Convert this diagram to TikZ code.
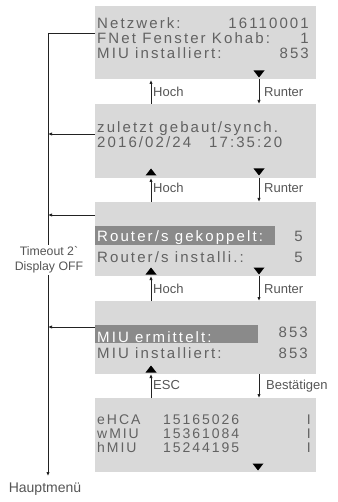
\documentclass[tikz,border=0pt]{standalone}
\usepackage{fontspec}
\setmainfont{Liberation Sans}
\newfontfamily\lcdfont[LetterSpace=14]{Liberation Sans}
\newfontfamily\rawfont[Ligatures=TeXOff]{Liberation Sans}
\usetikzlibrary{arrows.meta}
\definecolor{panel}{HTML}{D9D9D9}
\definecolor{hilite}{HTML}{8A8A8A}
\definecolor{lcdtext}{HTML}{626262}
\definecolor{labeltext}{HTML}{555555}
\definecolor{wire}{HTML}{222222}
\tikzset{
  panelbox/.style={fill=panel, draw=none},
  hlbar/.style={fill=hilite, draw=none},
  lcd/.style={font=\lcdfont\fontsize{15}{15}\selectfont, text=lcdtext, inner sep=0pt, anchor=base west},
  lcdr/.style={lcd, anchor=base east},
  lcdw/.style={lcd, text=white},
  lcdsmall/.style={lcd, font=\lcdfont\fontsize{14}{14}\selectfont, text height=10pt, text depth=0pt},
  lcdsmallr/.style={lcdsmall, anchor=base east},
  keylabel/.style={font=\fontsize{13}{13}\selectfont, text=labeltext, inner sep=0pt, anchor=base west},
  link/.style={draw=wire, line width=0.8pt, -{Latex[length=4pt,width=3.4pt]}},
  mainline/.style={draw=wire, line width=0.8pt},
}
\newcommand{\tridown}[2]{\fill[black] (#1-5.5,#2-3.5) -- (#1+5.5,#2-3.5) -- (#1,#2+3.5) -- cycle;}
\newcommand{\triup}[2]{\fill[black] (#1-5.5,#2+3.5) -- (#1+5.5,#2+3.5) -- (#1,#2-3.5) -- cycle;}
\begin{document}
\begin{tikzpicture}[x=1pt, y=-1pt]
\useasboundingbox (0,0) rectangle (337,502);

% display panels
\path[panelbox] (95,6) rectangle (316,79);
\path[panelbox] (95,104) rectangle (316,178);
\path[panelbox] (95,202) rectangle (316,276);
\path[panelbox] (95,301) rectangle (316,374);
\path[panelbox] (95,398) rectangle (316,472);

% anchors on the panel edges
\coordinate (p1w) at (95,33);
\coordinate (p2w) at (95,134);
\coordinate (p3w) at (95,215);
\coordinate (p4w) at (95,327);
\coordinate (p1s) at (151,80);  \coordinate (p2n) at (151,104);
\coordinate (p1r) at (259,79);  \coordinate (p2m) at (259,104);
\coordinate (p2s) at (151,178); \coordinate (p3n) at (151,202);
\coordinate (p2r) at (259,178); \coordinate (p3m) at (259,202);
\coordinate (p3s) at (151,276); \coordinate (p4n) at (151,301);
\coordinate (p3r) at (259,276); \coordinate (p4m) at (259,301);
\coordinate (p4s) at (151,374); \coordinate (p5n) at (151,398);
\coordinate (p4r) at (259,374); \coordinate (p5m) at (259,398);
\coordinate (bus1) at (48,33);
\coordinate (bus2) at (48,134);
\coordinate (bus3) at (48,215);
\coordinate (bus4) at (48,327);
\coordinate (busend) at (48,476);

% panel 1
\node[lcd]  (n1a) at (97,29) {Netzwerk:};
\node[lcdr] (v1a) at (309,29) {16110001};
\node[lcd]  (n1b) at (97,44) {FNet Fenster Kohab:};
\node[lcdr] (v1b) at (309,44) {1};
\node[lcd]  (n1c) at (97,59) {MIU installiert:};
\node[lcdr] (v1c) at (309,59) {853};
\tridown{259}{74}

% panel 2
\node[lcd] (n2a) at (97,133) {zuletzt gebaut/synch.};
\node[lcd] (n2b) at (97,148) {2016/02/24\hspace{18pt}17:35:20};
\triup{151}{172}
\tridown{259}{172}

% panel 3
\path[hlbar] (95,226) rectangle (275,245);
\node[lcdw] (n3a) at (97,241) {Router/s gekoppelt:};
\node[lcdr] (v3a) at (303,241) {5};
\node[lcd]  (n3b) at (97,262) {Router/s installi.:};
\node[lcdr] (v3b) at (303,262) {5};
\triup{151}{271}
\tridown{259}{271}

% panel 4
\path[hlbar] (95,325) rectangle (258,343);
\node[lcdw] (n4a) at (97,342) {MIU ermittelt:};
\node[lcdr] (v4a) at (308,337) {853};
\node[lcd]  (n4b) at (97,358) {MIU installiert:};
\node[lcdr] (v4b) at (308,358) {853};
\triup{151}{369}

% panel 5
\node[lcdsmall]  (n5a) at (97,424) {eHCA};
\node[lcdsmall]  (m5a) at (163,424) {15165026};
\node[lcdsmallr] (i5a) at (311,424) {I};
\node[lcdsmall]  (n5b) at (97,438) {wMIU};
\node[lcdsmall]  (m5b) at (163,438) {15361084};
\node[lcdsmallr] (i5b) at (311,438) {I};
\node[lcdsmall]  (n5c) at (97,452) {hMIU};
\node[lcdsmall]  (m5c) at (163,452) {15244195};
\node[lcdsmallr] (i5c) at (311,452) {I};
\tridown{258}{467}

% navigation between panels
\draw[link] (p2n) -- (p1s);
\draw[link] (p1r) -- (p2m);
\draw[link] (p3n) -- (p2s);
\draw[link] (p2r) -- (p3m);
\draw[link] (p4n) -- (p3s);
\draw[link] (p3r) -- (p4m);
\draw[link] (p5n) -- (p4s);
\draw[link] (p4r) -- (p5m);
\node[keylabel] (k1u) at (153,97) {Hoch};
\node[keylabel] (k1d) at (264,97) {Runter};
\node[keylabel] (k2u) at (153,193) {Hoch};
\node[keylabel] (k2d) at (264,193) {Runter};
\node[keylabel] (k3u) at (153,293) {Hoch};
\node[keylabel] (k3d) at (264,293) {Runter};
\node[keylabel] (k4u) at (153,389) {ESC};
\node[keylabel] (k4d) at (266,389) {Bestätigen};

% return path to the main menu
\draw[mainline] (p1w) -- (bus1);
\draw[link] (bus1) -- (busend);
\draw[link] (p2w) -- (bus2);
\draw[link] (p3w) -- (bus3);
\draw[link] (p4w) -- (bus4);
\node[fill=white, inner sep=2pt, align=center, font=\fontsize{12.3}{15}\selectfont, text=labeltext] (timeout) at (49,260) {Timeout 2{\rawfont`}\\Display OFF};
\node[font=\fontsize{14}{14}\selectfont, text=labeltext, inner sep=0pt, anchor=base] (menu) at (45,492) {Hauptmenü};
\end{tikzpicture}
\end{document}
